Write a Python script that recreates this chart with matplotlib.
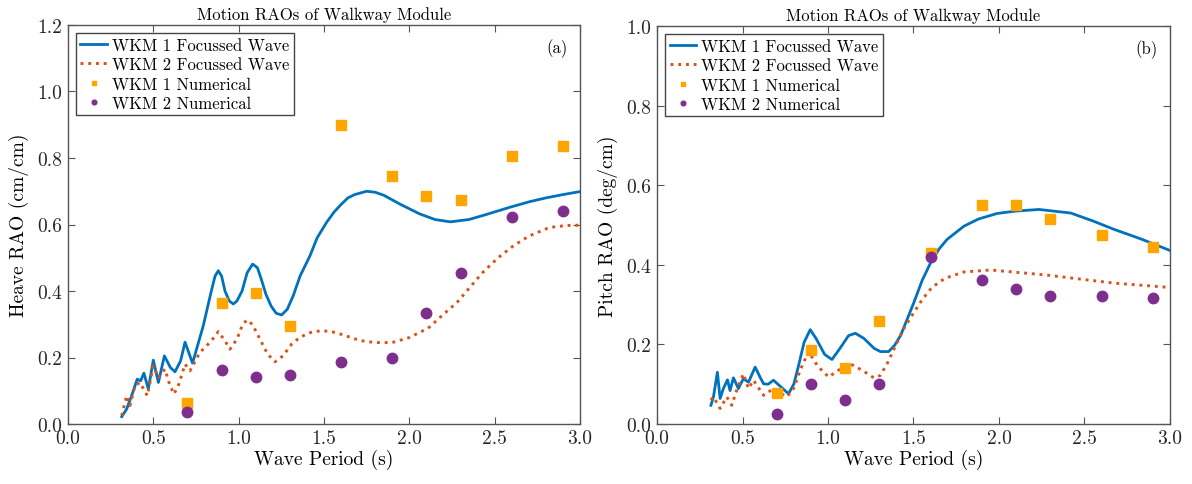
import numpy as np
import matplotlib
matplotlib.use("Agg")
import matplotlib.pyplot as plt
from matplotlib import ticker as tick

plt.rcParams['font.family'] = 'serif'
plt.rcParams['font.serif'] = ['cmr10', 'DejaVu Serif']
plt.rcParams['axes.formatter.use_mathtext'] = True
plt.rcParams['mathtext.fontset'] = 'cm'

# numerical periods (s)
T_num = [0.7, 0.9, 1.1, 1.3, 1.6, 1.9, 2.1, 2.3, 2.6, 2.9]

# heave (cm/cm)
heave_num1 = [0.064, 0.363, 0.395, 0.294, 0.90, 0.745, 0.687, 0.675, 0.805, 0.837]
heave_num2 = [0.037, 0.161, 0.142, 0.147, 0.187, 0.20, 0.335, 0.454, 0.622, 0.641]

heave_T1 = [0.315, 0.344, 0.373, 0.406, 0.426, 0.445, 0.471, 0.50, 0.53, 0.565, 0.60,
            0.627, 0.66, 0.686, 0.73, 0.793, 0.84, 0.862, 0.881, 0.90, 0.92, 0.945,
            0.969, 0.99, 1.02, 1.05, 1.082, 1.11, 1.13, 1.16, 1.19, 1.22, 1.252, 1.285,
            1.32, 1.36, 1.418, 1.46, 1.516, 1.56, 1.60, 1.64, 1.68, 1.75, 1.80, 1.85,
            1.95, 2.06, 2.15, 2.24, 2.35, 2.45, 2.59, 2.70, 2.80, 2.90, 3.0]
heave_wkm1 = [0.022, 0.045, 0.085, 0.135, 0.13, 0.153, 0.105, 0.192, 0.125, 0.205, 0.17,
              0.157, 0.19, 0.246, 0.183, 0.296, 0.40, 0.445, 0.461, 0.445, 0.40, 0.37,
              0.361, 0.37, 0.40, 0.455, 0.481, 0.47, 0.44, 0.39, 0.355, 0.333, 0.328, 0.345,
              0.386, 0.445, 0.506, 0.56, 0.607, 0.638, 0.66, 0.68, 0.69, 0.70, 0.697, 0.688,
              0.66, 0.632, 0.615, 0.608, 0.615, 0.63, 0.652, 0.668, 0.68, 0.69, 0.699]

heave_T2 = [0.315, 0.344, 0.363, 0.393, 0.422, 0.465, 0.50, 0.529, 0.568, 0.595, 0.621,
            0.65, 0.686, 0.715, 0.773, 0.84, 0.881, 0.92, 0.949, 0.99, 1.02, 1.047,
            1.08, 1.13, 1.17, 1.213, 1.26, 1.31, 1.36, 1.42, 1.486, 1.55, 1.60, 1.711,
            1.80, 1.90, 2.0, 2.11, 2.20, 2.28, 2.43, 2.52, 2.61, 2.70, 2.82, 2.92, 3.0]
heave_wkm2 = [0.025, 0.085, 0.055, 0.115, 0.125, 0.085, 0.175, 0.14, 0.165, 0.12, 0.09,
              0.12, 0.18, 0.16, 0.215, 0.25, 0.278, 0.25, 0.225, 0.255, 0.295, 0.313,
              0.30, 0.25, 0.21, 0.187, 0.205, 0.24, 0.261, 0.275, 0.281, 0.277, 0.27, 0.251,
              0.245, 0.245, 0.26, 0.288, 0.33, 0.366, 0.456, 0.50, 0.536, 0.565, 0.591, 0.597, 0.598]

# pitch (deg/cm)
pitch_num1 = [0.078, 0.186, 0.141, 0.258, 0.429, 0.55, 0.551, 0.514, 0.476, 0.445]
pitch_num2 = [0.025, 0.10, 0.061, 0.10, 0.42, 0.361, 0.339, 0.322, 0.321, 0.316]

pitch_T1 = [0.315, 0.33, 0.353, 0.369, 0.388, 0.412, 0.427, 0.447, 0.476, 0.505, 0.535,
            0.574, 0.60, 0.623, 0.65, 0.681, 0.72, 0.769, 0.80, 0.828, 0.86, 0.896, 0.93,
            0.98, 1.023, 1.07, 1.12, 1.16, 1.21, 1.27, 1.306, 1.355, 1.39, 1.424, 1.46,
            1.502, 1.55, 1.60, 1.65, 1.697, 1.795, 1.88, 1.99, 2.1, 2.234, 2.42, 2.55,
            2.673, 2.83, 3.0]
pitch_wkm1 = [0.047, 0.068, 0.13, 0.064, 0.089, 0.111, 0.084, 0.116, 0.089, 0.114, 0.105,
              0.143, 0.12, 0.101, 0.10, 0.11, 0.095, 0.076, 0.10, 0.147, 0.205, 0.237, 0.215,
              0.175, 0.162, 0.19, 0.222, 0.228, 0.215, 0.19, 0.182, 0.182, 0.198, 0.222, 0.26,
              0.305, 0.36, 0.405, 0.44, 0.464, 0.497, 0.515, 0.529, 0.535, 0.539, 0.53, 0.51,
              0.489, 0.465, 0.436]

pitch_T2 = [0.315, 0.33, 0.369, 0.408, 0.437, 0.466, 0.505, 0.535, 0.564, 0.623, 0.681,
            0.759, 0.80, 0.837, 0.886, 0.94, 1.004, 1.06, 1.131, 1.2, 1.268, 1.306, 1.35,
            1.404, 1.45, 1.502, 1.55, 1.60, 1.65, 1.697, 1.795, 1.951, 2.283, 2.673, 3.0]
pitch_wkm2 = [0.06, 0.068, 0.039, 0.068, 0.047, 0.085, 0.126, 0.089, 0.11, 0.072, 0.089,
              0.068, 0.09, 0.135, 0.182, 0.145, 0.118, 0.135, 0.151, 0.135, 0.116, 0.122, 0.155,
              0.205, 0.245, 0.28, 0.312, 0.339, 0.357, 0.368, 0.382, 0.387, 0.374, 0.354, 0.343]

blue = '#0072BD'
orange = '#D95319'
gold = '#FFA500'
purple = '#7E2F8E'
F = 14

fig = plt.figure(figsize=(11.92, 4.85), dpi=100)
ax1 = fig.add_axes([0.0570, 0.1237, 0.4296, 0.8227])
ax2 = fig.add_axes([0.5512, 0.1237, 0.4303, 0.8207])

panels = [
    (ax1, heave_T1, heave_wkm1, heave_T2, heave_wkm2, heave_num1, heave_num2,
     'Heave RAO (cm/cm)', 1.2, '(a)'),
    (ax2, pitch_T1, pitch_wkm1, pitch_T2, pitch_wkm2, pitch_num1, pitch_num2,
     'Pitch RAO (deg/cm)', 1.0, '(b)'),
]

for ax, t1, y1, t2, y2, n1, n2, ylab, ymax, tag in panels:
    ax.plot(t1, y1, '-', color=blue, lw=2, label='WKM 1 Focussed Wave')
    ax.plot(t2, y2, ':', color=orange, lw=2.1, label='WKM 2 Focussed Wave')
    ax.plot(T_num, n1, 's', color=gold, ms=7, ls='none', label='WKM 1 Numerical')
    ax.plot(T_num, n2, 'o', color=purple, ms=7.5, ls='none', label='WKM 2 Numerical')
    ax.set_xlim(0, 3)
    ax.set_ylim(0, ymax)
    ax.set_xticks(np.arange(0, 3.01, 0.5))
    ax.set_yticks(np.arange(0, ymax + 0.01, 0.2))
    ax.xaxis.set_major_formatter(tick.FormatStrFormatter('%.1f'))
    ax.yaxis.set_major_formatter(tick.FormatStrFormatter('%.1f'))
    ax.tick_params(direction='in', top=True, right=True, length=5, width=0.8,
                   labelsize=F, colors='#555555', labelcolor='#262626')
    ax.tick_params(axis='x', pad=4)
    ax.tick_params(axis='y', pad=4)
    for sp in ax.spines.values():
        sp.set_color('#555555')
        sp.set_linewidth(1.0)
    ax.set_xlabel('Wave Period (s)', fontsize=F, labelpad=1)
    ax.set_ylabel(ylab, fontsize=F, labelpad=6)
    ax.set_title('Motion RAOs of Walkway Module', fontsize=12, pad=4)
    ax.text(0.975, 0.967, tag, transform=ax.transAxes, fontsize=12,
            ha='right', va='top')
    leg = ax.legend(loc='upper left', fontsize=12, markerscale=0.45,
                    handlelength=1.6, handletextpad=0.3, labelspacing=0.25,
                    borderpad=0.25, borderaxespad=0.5, fancybox=False,
                    framealpha=1, edgecolor='#444444')
    leg.get_frame().set_linewidth(1.0)

fig.savefig('out.png', dpi=100)
